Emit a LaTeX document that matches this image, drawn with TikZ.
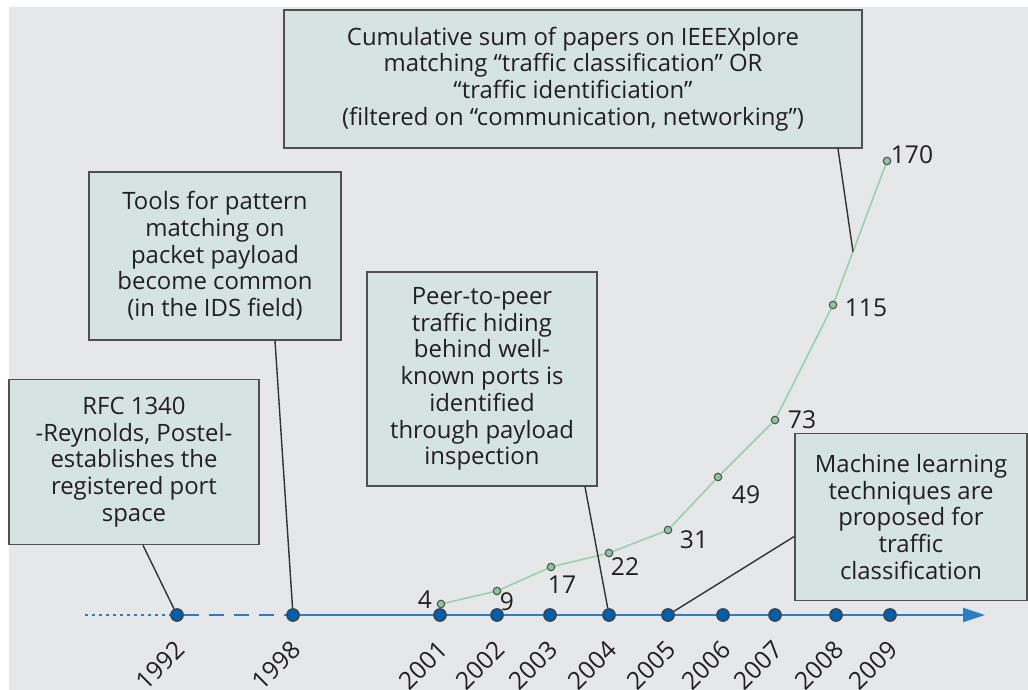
\documentclass[tikz,border=0pt]{standalone}
\usepackage{fontspec}
\setmainfont{Open Sans}
\usetikzlibrary{arrows.meta, positioning, calc}
\definecolor{panel}{RGB}{230,231,232}
\definecolor{boxfill}{RGB}{214,228,225}
\definecolor{boxline}{RGB}{80,80,80}
\definecolor{axisblue}{RGB}{45,125,195}
\definecolor{dotblue}{RGB}{0,95,170}
\definecolor{curvegreen}{RGB}{150,210,170}
\definecolor{ptgreen}{RGB}{140,200,155}
\definecolor{ink}{RGB}{35,31,32}
\begin{document}
\begin{tikzpicture}[x=0.2mm, y=-0.2mm,
    note/.style={
        rectangle,
        draw=boxline,
        fill=boxfill,
        line width=0.9pt,
        align=center,
        inner sep=2pt,
        text=ink,
        font=\fontsize{13.6}{15.2}\selectfont
    },
    conn/.style={draw=black!80, line width=0.8pt},
    axis/.style={draw=axisblue, line width=1.2pt},
    year/.style={circle, fill=dotblue, draw=black!75, line width=0.7pt, inner sep=0pt, minimum size=2.5mm},
    yearlbl/.style={rotate=45, anchor=east, inner sep=0pt, text=ink, font=\fontsize{14}{16}\selectfont},
    pt/.style={circle, fill=ptgreen, draw=black!70, line width=0.6pt, inner sep=0pt, minimum size=1.5mm},
    val/.style={inner sep=0pt, text=ink, font=\fontsize{14}{16}\selectfont},
    curve/.style={draw=curvegreen, line width=0.9pt}
]

% page and panel
\fill[white] (0,0) rectangle (1028,690);
\fill[panel] (9,7) rectangle (1028,690);
\useasboundingbox (0,0) rectangle (1028,690);

% notes
\node[note, minimum width=115.6mm, minimum height=27.6mm] (sum) at (573,79)
    {Cumulative sum of papers on IEEEXplore\\ matching “traffic classification” OR\\ “traffic identificiation”\\ (filtered on “communication, networking”)};
\node[note, minimum width=50.4mm, minimum height=33.6mm] (tools) at (215,256)
    {Tools for pattern\\ matching on\\ packet payload\\ become common\\ (in the IDS field)};
\node[note, minimum width=50mm, minimum height=33mm] (rfc) at (134,462)
    {RFC 1340\\ -Reynolds, Postel-\\ establishes the\\ registered port\\ space};
\node[note, minimum width=46mm, minimum height=42.8mm] (p2p) at (482,379)
    {Peer-to-peer\\ traffic hiding\\ behind well-\\ known ports is\\ identified\\ through payload\\ inspection};
\node[note, minimum width=46.4mm, minimum height=33.4mm] (ml) at (911,517)
    {Machine learning\\ techniques are\\ proposed for\\ traffic\\ classification};

% time axis
\coordinate (axstart) at (85,615);
\coordinate (axend) at (985,615);
\foreach \yr/\x in {1992/177, 1998/293, 2001/440, 2002/497, 2003/550, 2004/609, 2005/668, 2006/723, 2007/775, 2008/836, 2009/890}{
    \node[year] (y\yr) at (\x,615) {};
    \node[yearlbl] at (\x+3,645) {\yr};
}
\draw[axis, dash pattern=on 0.6mm off 0.8mm] (axstart) -- (y1992);
\draw[axis, dash pattern=on 3mm off 2mm] (y1992) -- (y1998);
\draw[axis, -{Triangle[length=4.4mm, width=2.8mm]}] (y1998) -- (y2001) -- (y2002) -- (y2003) -- (y2004) -- (y2005) -- (y2006) -- (y2007) -- (y2008) -- (y2009) -- (axend);

% papers per year
\foreach \yr/\x/\y in {2001/441/604, 2002/497/591, 2003/551/567, 2004/609/553, 2005/668/530, 2006/718/477, 2007/775/420, 2008/833/305, 2009/887/161}
    \node[pt] (p\yr) at (\x,\y) {};
\draw[curve] (p2001) -- (p2002) -- (p2003) -- (p2004) -- (p2005) -- (p2006) -- (p2007) -- (p2008) -- (p2009);
\node[val] (v2001) at (425,600) {4};
\node[val] (v2002) at (507,602) {9};
\node[val] (v2003) at (562,585) {17};
\node[val] (v2004) at (625,567) {22};
\node[val] (v2005) at (694,540) {31};
\node[val] (v2006) at (746,495) {49};
\node[val] (v2007) at (802,420) {73};
\node[val] (v2008) at (866,308) {115};
\node[val] (v2009) at (912,155) {170};

% connectors
\coordinate (oncurve) at ($(p2008)!0.37!(p2009)$);
\draw[conn] ([xshift=53mm]sum.south) -- (oncurve);
\draw[conn] ([xshift=1.8mm]rfc.south) -- (y1992);
\draw[conn] ([xshift=12mm]tools.south) -- (y1998);
\draw[conn] ([xshift=20.6mm]p2p.south) -- (y2004);
\draw[conn] ([yshift=-3.9mm]ml.west) -- (y2005);

\end{tikzpicture}
\end{document}
